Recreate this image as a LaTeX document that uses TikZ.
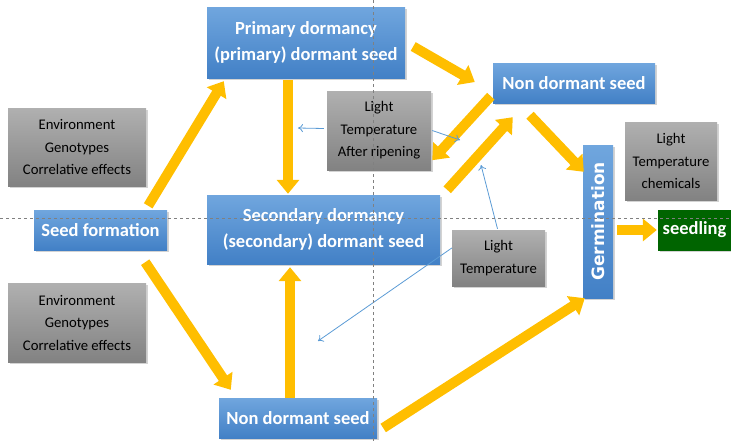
\documentclass[tikz,border=0pt]{standalone}
\usepackage{fontspec}
\setmainfont{Carlito}
\newfontfamily\germfont{DejaVu Sans}
\usetikzlibrary{arrows.meta,calc,shadows}

\definecolor{boxtop}{RGB}{112,166,222}
\definecolor{boxbot}{RGB}{66,128,198}
\definecolor{greytop}{RGB}{176,176,176}
\definecolor{greybot}{RGB}{130,130,130}
\definecolor{arrowyel}{RGB}{255,190,0}
\definecolor{thinblue}{RGB}{91,155,213}
\definecolor{seedgreen}{RGB}{0,100,0}

\tikzset{
  bluebox/.style={rectangle, top color=boxtop, bottom color=boxbot, text=white,
    font=\bfseries\fontsize{18.5}{26}\selectfont, align=center, inner sep=0pt,
    drop shadow={shadow xshift=1.5pt, shadow yshift=-1.5pt, opacity=.35}},
  greybox/.style={rectangle, top color=greytop, bottom color=greybot, text=black,
    font=\fontsize{14.7}{22.5}\selectfont, align=center, inner sep=0pt,
    drop shadow={shadow xshift=1.5pt, shadow yshift=-1.5pt, opacity=.35}},
  bigarrow/.style={draw=arrowyel, line width=10pt, -{Triangle[length=14pt,width=22pt]}},
  thinarrow/.style={draw=thinblue, line width=0.8pt, -{To[length=5pt,width=8pt]}},
  guide/.style={draw=gray, dashed, line width=0.6pt}
}

\begin{document}
\begin{tikzpicture}[x=1pt,y=1pt,yscale=-1]
    \useasboundingbox (0,0) rectangle (731,442);
    % boxes
    \node [bluebox, minimum width=198pt, minimum height=71pt] (prim) at (306,42.5) {Primary dormancy\\(primary) dormant seed};
    \node [bluebox, minimum width=162pt, minimum height=40pt] (ndtop) at (574,83) {Non dormant seed};
    \node [greybox, minimum width=104pt, minimum height=79pt] (ltar) at (379,130.5) {Light\\Temperature\\After ripening};
    \node [greybox, minimum width=138pt, minimum height=78pt] (envtop) at (77,147) {Environment\\Genotypes\\Correlative effects};
    \node [bluebox, minimum width=133pt, minimum height=40pt] (seedf) at (100.5,230) {Seed formation};
    \node [bluebox, minimum width=233pt, minimum height=69pt] (sec) at (323.5,229.5) {Secondary dormancy\\(secondary) dormant seed};
    \node [greybox, minimum width=93pt, minimum height=56pt] (ltmid) at (498.5,258) {Light\\Temperature};
    \node [greybox, minimum width=92pt, minimum height=78pt] (ltchem) at (671,161) {Light\\Temperature\\chemicals};
    \node [bluebox, minimum width=30pt, minimum height=153pt, font=\germfont\bfseries\fontsize{17}{18}\selectfont] (germ) at (598,221.5) {\rotatebox{90}{Germination}};
    \node [bluebox, top color=seedgreen, bottom color=seedgreen, minimum width=73pt, minimum height=40pt] (seedl) at (694.5,230) {seedling};
    \node [greybox, minimum width=138pt, minimum height=79pt] (envbot) at (77,322.5) {Environment\\Genotypes\\Correlative effects};
    \node [bluebox, minimum width=158pt, minimum height=40pt] (ndbot) at (298,418) {Non dormant seed};

    % yellow arrows
    \draw [bigarrow] ($(seedf.north east)+(-19,-4)$) -- ($(prim.south west)+(17,3)$);
    \draw [bigarrow] ($(seedf.south east)+(-22,12)$) -- ($(ndbot.north west)+(12,-8)$);
    \draw [bigarrow] ($(prim.south)+(-18,2)$) -- ($(sec.north)+(-35.5,-1)$);
    \draw [bigarrow] ($(ndbot.north)+(-8,0)$) -- ($(sec.south)+(-33.5,3)$);
    \draw [bigarrow] ($(prim.east)+(8,4)$) -- ($(ndtop.west)+(-18,-1)$);
    \draw [bigarrow] ($(ndtop.south west)+(-2,-7)$) -- ($(ltar.south east)+(1,-10)$);
    \draw [bigarrow] ($(sec.north east)+(7,-5)$) -- ($(ndtop.south west)+(20,14)$);
    \draw [bigarrow] ($(ndtop.south)+(-44,12)$) -- ($(germ.north west)+(1,27)$);
    \draw [bigarrow] ($(ndbot.east)+(6,10)$) -- ($(germ.south west)+(2,0)$);
    \draw [bigarrow] ($(germ.east)+(4,8.5)$) -- ($(seedl.west)+(-1,0)$);

    % thin blue arrows
    \coordinate (ltarL) at (298,128);
    \coordinate (ltarR) at (460,140);
    \coordinate (ltmidU) at (481,165);
    \coordinate (ltmidL) at (318,341);
    \draw [thinarrow] ($(ltar.west)+(-3,-2)$) -- (ltarL);
    \draw [thinarrow] ($(ltar.east)+(1,0)$) -- (ltarR);
    \draw [thinarrow] ($(ltmid.north)+(-1,-1)$) -- (ltmidU);
    \draw [thinarrow] ($(ltmid.west)+(0,-10)$) -- (ltmidL);

    % dashed guides
    \draw [guide] (0,218) -- (731,218);
    \draw [guide] (373,0) -- (373,442);
\end{tikzpicture}
\end{document}
